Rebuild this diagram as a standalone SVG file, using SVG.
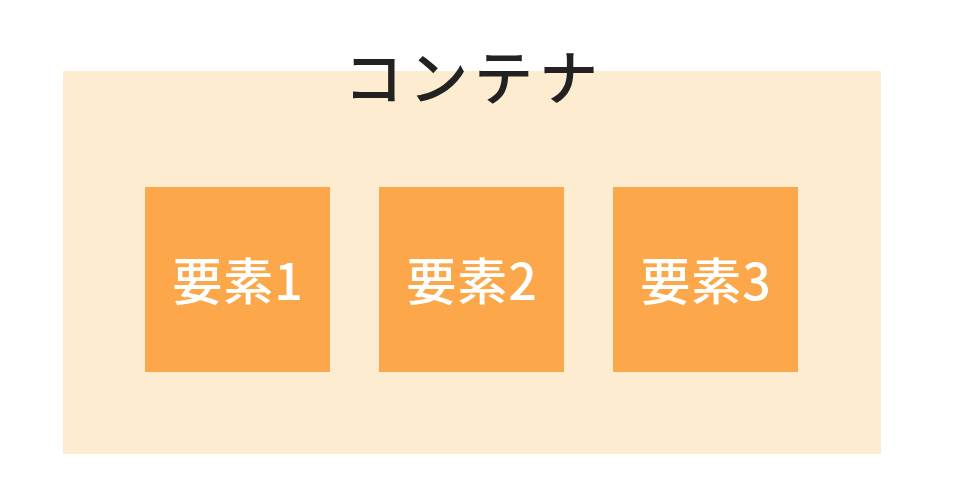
<svg xmlns="http://www.w3.org/2000/svg" width="966" height="502" viewBox="0 0 966 502">
<style>
.cont{fill:#FEECD1;}
.item{fill:#FCA84A;}
.title{font-family:"Noto Sans CJK JP","Noto Sans",sans-serif;font-size:59px;font-weight:500;fill:#222;text-anchor:middle;dominant-baseline:central;letter-spacing:6px;}
.lbl{font-family:"Noto Sans CJK JP","Noto Sans",sans-serif;font-size:50px;font-weight:500;fill:#fff;text-anchor:middle;dominant-baseline:central;letter-spacing:1px;}
</style>
<rect width="966" height="502" fill="#fff"/>
<g id="container">
<rect class="cont" x="63" y="71" width="818" height="383"/>
<text class="title" x="474" y="74">コンテナ</text>
</g>
<g id="item1">
<rect class="item" x="145" y="187" width="185" height="185"/>
<text class="lbl" x="238" y="278">要素1</text>
</g>
<g id="item2">
<rect class="item" x="379" y="187" width="185" height="185"/>
<text class="lbl" x="472" y="278">要素2</text>
</g>
<g id="item3">
<rect class="item" x="613" y="187" width="185" height="185"/>
<text class="lbl" x="706" y="278">要素3</text>
</g>
<g id="connectors"></g>
</svg>
